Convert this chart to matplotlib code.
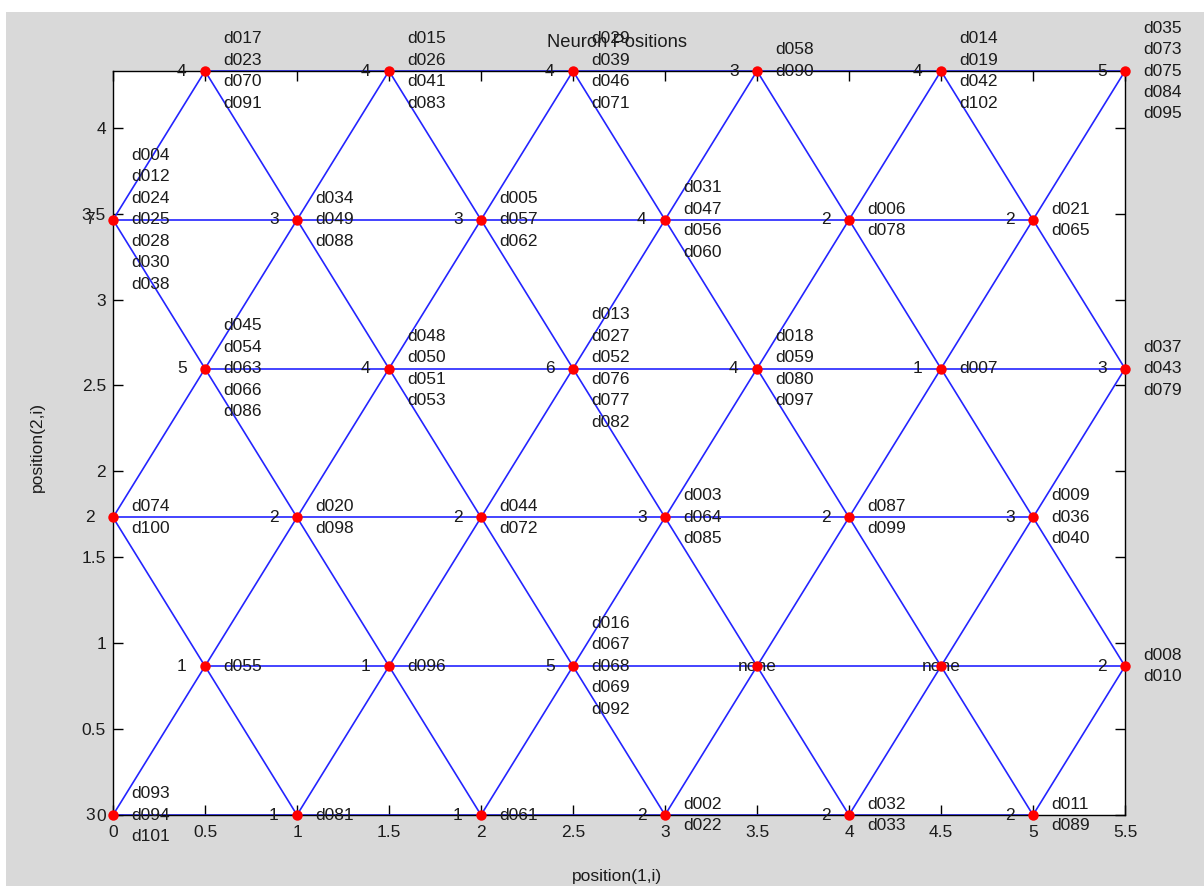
import matplotlib
matplotlib.use("Agg")
import matplotlib.pyplot as plt
from matplotlib.patches import Rectangle
import numpy as np

plt.rcParams['font.family'] = ['Liberation Sans', 'DejaVu Sans']

# Neuron positions of the 6x6 hexagonal map (row by row, bottom to top)
neuron_x = [0.0, 1.0, 2.0, 3.0, 4.0, 5.0,
            0.5, 1.5, 2.5, 3.5, 4.5, 5.5,
            0.0, 1.0, 2.0, 3.0, 4.0, 5.0,
            0.5, 1.5, 2.5, 3.5, 4.5, 5.5,
            0.0, 1.0, 2.0, 3.0, 4.0, 5.0,
            0.5, 1.5, 2.5, 3.5, 4.5, 5.5]
neuron_y = [0.0, 0.0, 0.0, 0.0, 0.0, 0.0,
            0.866, 0.866, 0.866, 0.866, 0.866, 0.866,
            1.732, 1.732, 1.732, 1.732, 1.732, 1.732,
            2.598, 2.598, 2.598, 2.598, 2.598, 2.598,
            3.464, 3.464, 3.464, 3.464, 3.464, 3.464,
            4.330, 4.330, 4.330, 4.330, 4.330, 4.330]

# Number of samples won by each neuron
hit_counts = [3, 1, 1, 2, 2, 2,
              1, 1, 5, 0, 0, 2,
              2, 2, 2, 3, 2, 3,
              5, 4, 6, 4, 1, 3,
              7, 3, 3, 4, 2, 2,
              4, 4, 4, 3, 4, 5]

# Sample names assigned to each neuron
hit_labels = [
    ["d093", "d094", "d101"], ["d081"], ["d061"], ["d002", "d022"], ["d032", "d033"], ["d011", "d089"],
    ["d055"], ["d096"], ["d016", "d067", "d068", "d069", "d092"], [], [], ["d008", "d010"],
    ["d074", "d100"], ["d020", "d098"], ["d044", "d072"], ["d003", "d064", "d085"], ["d087", "d099"],
    ["d009", "d036", "d040"],
    ["d045", "d054", "d063", "d066", "d086"], ["d048", "d050", "d051", "d053"],
    ["d013", "d027", "d052", "d076", "d077", "d082"], ["d018", "d059", "d080", "d097"], ["d007"],
    ["d037", "d043", "d079"],
    ["d004", "d012", "d024", "d025", "d028", "d030", "d038"], ["d034", "d049", "d088"],
    ["d005", "d057", "d062"], ["d031", "d047", "d056", "d060"], ["d006", "d078"], ["d021", "d065"],
    ["d017", "d023", "d070", "d091"], ["d015", "d026", "d041", "d083"], ["d029", "d039", "d046", "d071"],
    ["d058", "d090"], ["d014", "d019", "d042", "d102"], ["d035", "d073", "d075", "d084", "d095"],
]

x_ticks = [0, 0.5, 1, 1.5, 2, 2.5, 3, 3.5, 4, 4.5, 5, 5.5]
y_ticks = [0, 0.5, 1, 1.5, 2, 2.5, 3, 3.5, 4]

W, H = 1204, 886
fig = plt.figure(figsize=(W / 100, H / 100), dpi=100, facecolor='white')
fig.patches.append(Rectangle((6 / W, 0), 1 - 6 / W, (H - 12) / H,
                             transform=fig.transFigure, facecolor='#d9d9d9',
                             edgecolor='none', zorder=-10))

ax = fig.add_axes([113 / W, 71 / H, 1012 / W, 744 / H])
ax.set_facecolor('white')

px = np.array(neuron_x)
py = np.array(neuron_y)

# Links between neighbouring neurons (unit distance)
for i in range(len(px)):
    for j in range(i + 1, len(px)):
        d = np.hypot(px[i] - px[j], py[i] - py[j])
        if d < 1.01:
            ax.plot([px[i], px[j]], [py[i], py[j]], color='#2424ff', lw=1.2,
                    clip_on=False, zorder=2, solid_capstyle='butt')

ax.plot(px, py, 'o', color='red', markersize=7.5, markeredgewidth=0,
        clip_on=False, zorder=5)

fs = 12.5
tc = '#1c1c1c'
for x, y, n, labs in zip(px, py, hit_counts, hit_labels):
    if n == 0:
        ax.text(x, y, 'none', ha='center', va='center', fontsize=fs, color=tc, zorder=4)
        continue
    ax.text(x - 0.1, y, str(n), ha='right', va='center', fontsize=fs, color=tc, zorder=4)
    lines = list(labs) + [' '] * (n - len(labs))
    ax.text(x + 0.1, y, '\n'.join(lines), ha='left', va='center', fontsize=fs,
            color=tc, linespacing=1.54, zorder=4)

ax.set_xlim(0, 5.5)
ax.set_ylim(0, 4.3301)
ax.set_xticks(x_ticks)
ax.set_xticklabels([f'{t:g}' for t in x_ticks])
ax.set_yticks(y_ticks)
ax.set_yticklabels([f'{t:g}' for t in y_ticks])
ax.tick_params(direction='in', length=7, width=1, top=True, right=True,
               labelsize=fs, labelcolor=tc)
ax.tick_params(axis='x', pad=7)
ax.tick_params(axis='y', pad=5)
for s in ax.spines.values():
    s.set_linewidth(1.0)
    s.set_color('black')

ax.set_xlabel('position(1,i)', fontsize=fs, color=tc)
ax.xaxis.set_label_coords(0.498, (H - 877 - 71) / 744)
ax.xaxis.label.set_va('center')
ax.set_ylabel('position(2,i)', fontsize=fs, color=tc)
ax.yaxis.set_label_coords((37 - 113) / 1012, (H - 447 - 71) / 744)
ax.yaxis.label.set_va('center')

ax.text(0.498, (H - 43 - 71) / 744, 'Neuron Positions', transform=ax.transAxes,
        ha='center', va='center', fontsize=13.2, color=tc, zorder=1)

fig.savefig('out.png', dpi=100, facecolor=fig.get_facecolor())
